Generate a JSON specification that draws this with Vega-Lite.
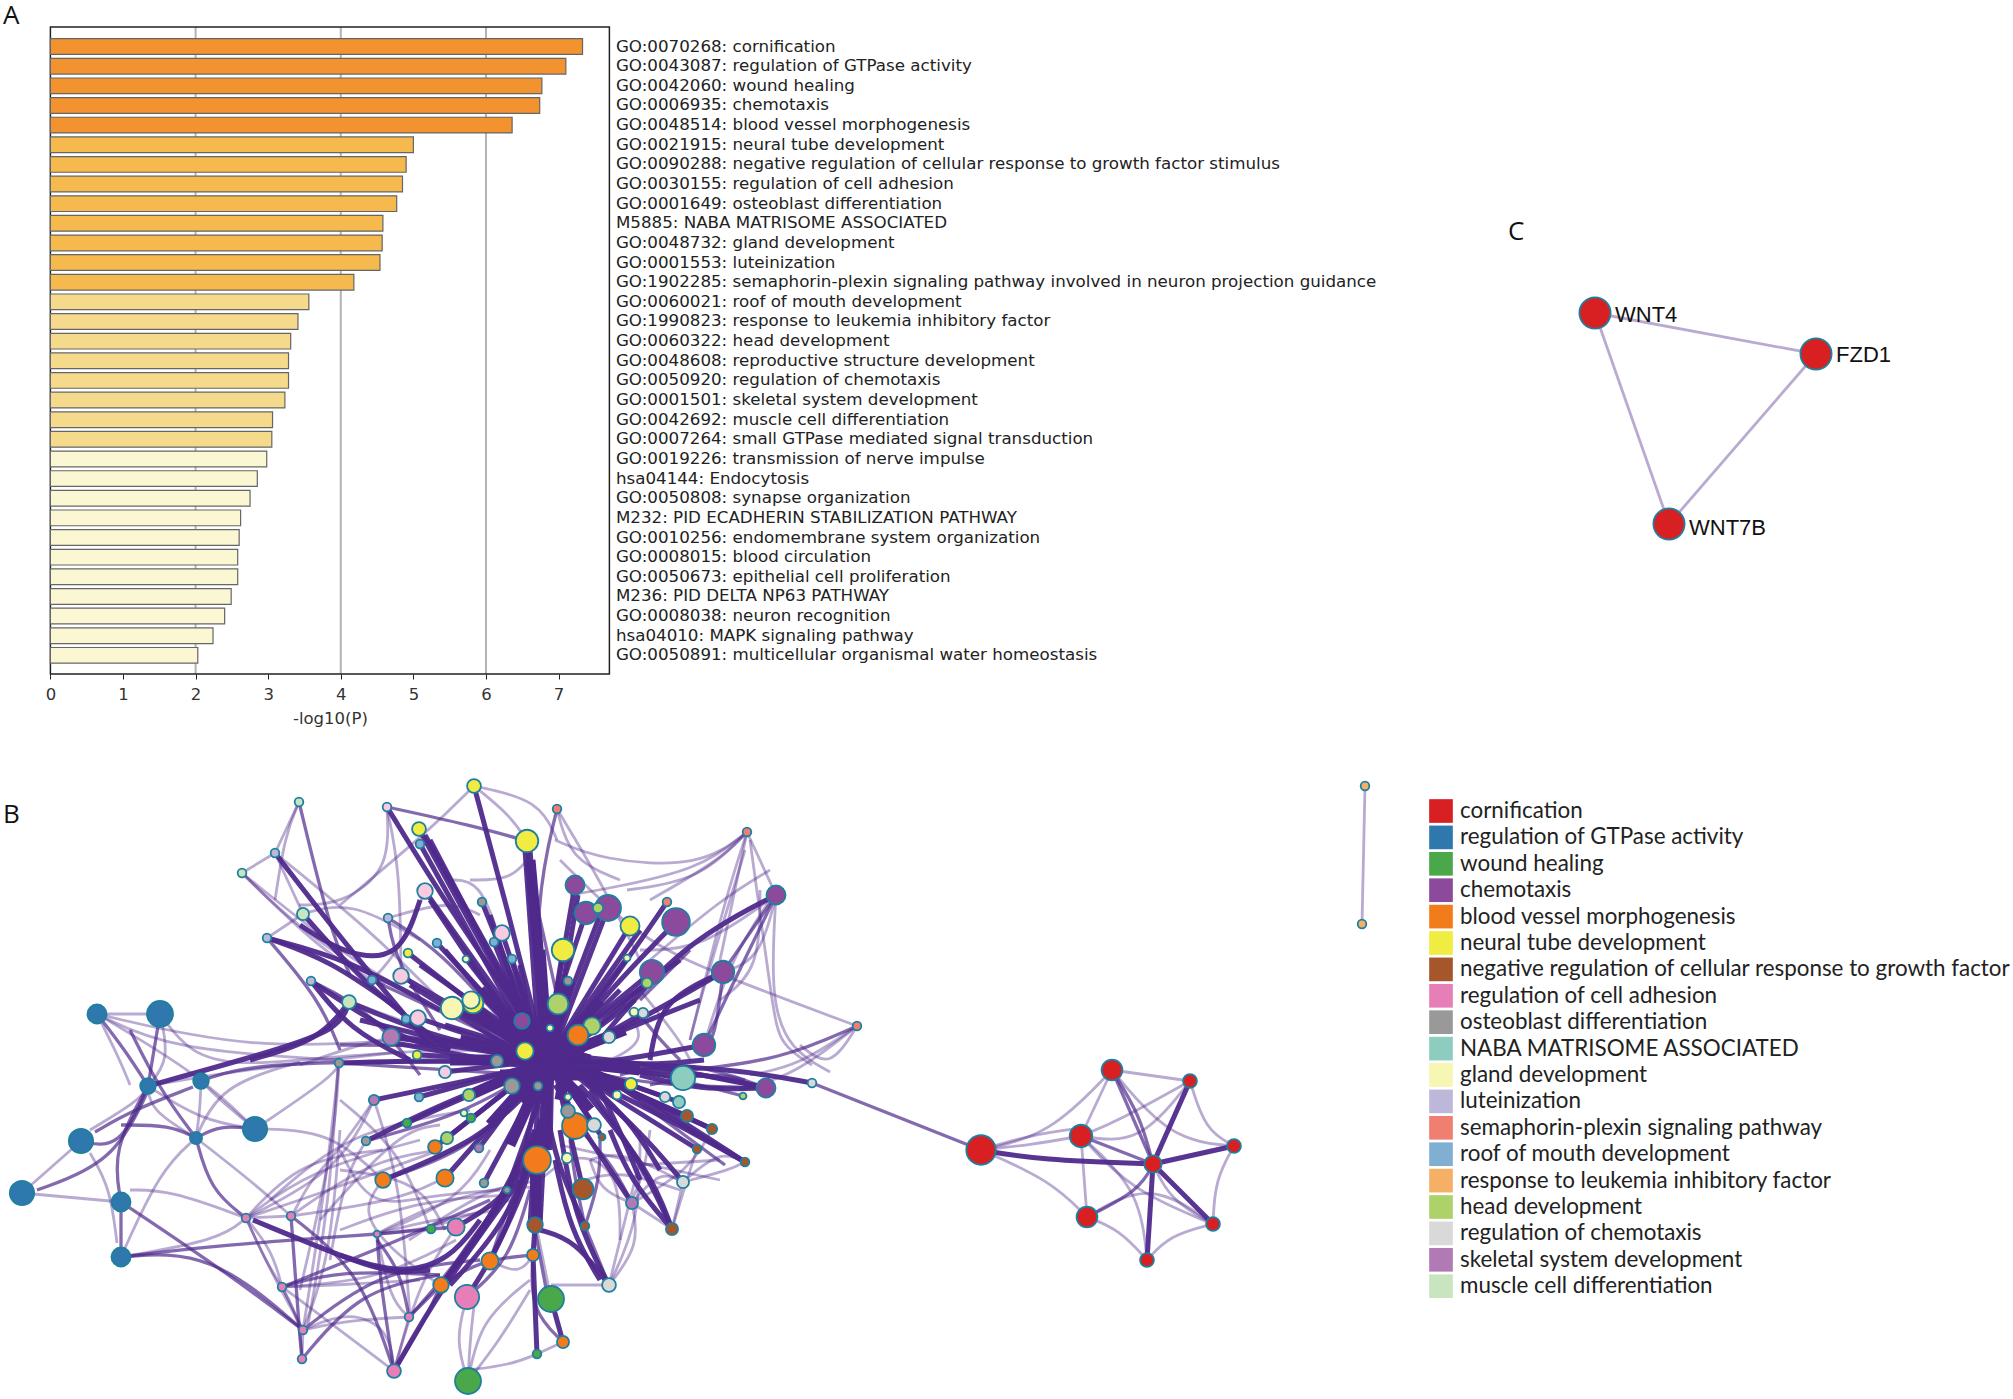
{"$schema":"https://vega.github.io/schema/vega-lite/v6.json","width":2013,"height":1399,"padding":0,"autosize":{"type":"none"},"background":"white","config":{"view":{"stroke":null}},
"datasets":{
"bars":[{"label":"GO:0070268: cornification","v":7.33},{"label":"GO:0043087: regulation of GTPase activity","v":7.10},{"label":"GO:0042060: wound healing","v":6.77},{"label":"GO:0006935: chemotaxis","v":6.74},{"label":"GO:0048514: blood vessel morphogenesis","v":6.36},{"label":"GO:0021915: neural tube development","v":5.00},{"label":"GO:0090288: negative regulation of cellular response to growth factor stimulus","v":4.90},{"label":"GO:0030155: regulation of cell adhesion","v":4.85},{"label":"GO:0001649: osteoblast differentiation","v":4.77},{"label":"M5885: NABA MATRISOME ASSOCIATED","v":4.58},{"label":"GO:0048732: gland development","v":4.57},{"label":"GO:0001553: luteinization","v":4.54},{"label":"GO:1902285: semaphorin-plexin signaling pathway involved in neuron projection guidance","v":4.18},{"label":"GO:0060021: roof of mouth development","v":3.56},{"label":"GO:1990823: response to leukemia inhibitory factor","v":3.41},{"label":"GO:0060322: head development","v":3.31},{"label":"GO:0048608: reproductive structure development","v":3.28},{"label":"GO:0050920: regulation of chemotaxis","v":3.28},{"label":"GO:0001501: skeletal system development","v":3.23},{"label":"GO:0042692: muscle cell differentiation","v":3.06},{"label":"GO:0007264: small GTPase mediated signal transduction","v":3.05},{"label":"GO:0019226: transmission of nerve impulse","v":2.98},{"label":"hsa04144: Endocytosis","v":2.85},{"label":"GO:0050808: synapse organization","v":2.75},{"label":"M232: PID ECADHERIN STABILIZATION PATHWAY","v":2.62},{"label":"GO:0010256: endomembrane system organization","v":2.60},{"label":"GO:0008015: blood circulation","v":2.58},{"label":"GO:0050673: epithelial cell proliferation","v":2.58},{"label":"M236: PID DELTA NP63 PATHWAY","v":2.49},{"label":"GO:0008038: neuron recognition","v":2.40},{"label":"hsa04010: MAPK signaling pathway","v":2.24},{"label":"GO:0050891: multicellular organismal water homeostasis","v":2.03}],
"terms":[{"t":1,"term":"cornification"},{"t":2,"term":"regulation of GTPase activity"},{"t":3,"term":"wound healing"},{"t":4,"term":"chemotaxis"},{"t":5,"term":"blood vessel morphogenesis"},{"t":6,"term":"neural tube development"},{"t":7,"term":"negative regulation of cellular response to growth factor"},{"t":8,"term":"regulation of cell adhesion"},{"t":9,"term":"osteoblast differentiation"},{"t":10,"term":"NABA MATRISOME ASSOCIATED"},{"t":11,"term":"gland development"},{"t":12,"term":"luteinization"},{"t":13,"term":"semaphorin-plexin signaling pathway"},{"t":14,"term":"roof of mouth development"},{"t":15,"term":"response to leukemia inhibitory factor"},{"t":16,"term":"head development"},{"t":17,"term":"regulation of chemotaxis"},{"t":18,"term":"skeletal system development"},{"t":19,"term":"muscle cell differentiation"},{"t":20,"term":"small GTPase mediated signal transduction"}],
"nodes":[{"x":299,"y":802,"t":19,"k":5},{"x":275,"y":853,"t":12,"k":5},{"x":242,"y":873,"t":19,"k":5},{"x":303,"y":914,"t":19,"k":7},{"x":267,"y":938,"t":12,"k":5},{"x":311,"y":981,"t":12,"k":5},{"x":387,"y":807,"t":20,"k":5},{"x":419,"y":829,"t":6,"k":8},{"x":420,"y":844,"t":14,"k":5},{"x":425,"y":891,"t":20,"k":9},{"x":388,"y":918,"t":12,"k":5},{"x":437,"y":943,"t":14,"k":5},{"x":408,"y":953,"t":6,"k":5},{"x":401,"y":976,"t":20,"k":9},{"x":372,"y":980,"t":14,"k":5},{"x":349,"y":1002,"t":19,"k":8},{"x":406,"y":1019,"t":14,"k":5},{"x":418,"y":1018,"t":20,"k":9},{"x":391,"y":1037,"t":18,"k":10},{"x":417,"y":1055,"t":6,"k":5},{"x":339,"y":1063,"t":9,"k":5},{"x":473,"y":1003,"t":6,"k":12},{"x":452,"y":1008,"t":11,"k":13},{"x":471,"y":1000,"t":11,"k":10},{"x":97,"y":1014,"t":2,"k":11},{"x":160,"y":1014,"t":2,"k":15},{"x":148,"y":1086,"t":2,"k":9},{"x":201,"y":1081,"t":2,"k":9},{"x":255,"y":1129,"t":2,"k":14},{"x":196,"y":1138,"t":2,"k":7},{"x":81,"y":1141,"t":2,"k":14},{"x":22,"y":1193,"t":2,"k":14},{"x":121,"y":1202,"t":2,"k":11},{"x":121,"y":1257,"t":2,"k":11},{"x":474,"y":786,"t":6,"k":8},{"x":557,"y":809,"t":13,"k":5},{"x":527,"y":841,"t":6,"k":13},{"x":575,"y":885,"t":4,"k":11},{"x":482,"y":902,"t":9,"k":5},{"x":608,"y":908,"t":4,"k":15},{"x":586,"y":913,"t":4,"k":13},{"x":598,"y":908,"t":16,"k":6},{"x":630,"y":926,"t":6,"k":11},{"x":667,"y":902,"t":13,"k":5},{"x":676,"y":922,"t":4,"k":16},{"x":494,"y":942,"t":14,"k":5},{"x":502,"y":933,"t":20,"k":9},{"x":563,"y":950,"t":6,"k":13},{"x":512,"y":959,"t":14,"k":5},{"x":466,"y":959,"t":11,"k":4},{"x":627,"y":958,"t":11,"k":4},{"x":652,"y":972,"t":4,"k":14},{"x":647,"y":983,"t":16,"k":6},{"x":723,"y":972,"t":4,"k":13},{"x":747,"y":832,"t":13,"k":5},{"x":776,"y":895,"t":4,"k":11},{"x":568,"y":981,"t":9,"k":5},{"x":558,"y":1004,"t":16,"k":12},{"x":522,"y":1021,"t":4,"k":9},{"x":550,"y":1028,"t":11,"k":4},{"x":592,"y":1026,"t":16,"k":10},{"x":578,"y":1035,"t":5,"k":12},{"x":609,"y":1037,"t":17,"k":7},{"x":643,"y":1013,"t":17,"k":6},{"x":634,"y":1012,"t":11,"k":5},{"x":704,"y":1045,"t":4,"k":13},{"x":525,"y":1051,"t":6,"k":10},{"x":497,"y":1061,"t":9,"k":7},{"x":683,"y":1078,"t":10,"k":14},{"x":766,"y":1088,"t":4,"k":11},{"x":631,"y":1084,"t":6,"k":7},{"x":512,"y":1086,"t":9,"k":9},{"x":538,"y":1086,"t":9,"k":5},{"x":445,"y":1072,"t":20,"k":7},{"x":374,"y":1100,"t":18,"k":6},{"x":419,"y":1097,"t":14,"k":5},{"x":469,"y":1095,"t":16,"k":7},{"x":471,"y":1118,"t":3,"k":5},{"x":464,"y":1113,"t":11,"k":4},{"x":407,"y":1123,"t":3,"k":5},{"x":366,"y":1141,"t":9,"k":5},{"x":447,"y":1138,"t":16,"k":7},{"x":435,"y":1147,"t":5,"k":8},{"x":479,"y":1148,"t":18,"k":5},{"x":383,"y":1180,"t":5,"k":9},{"x":445,"y":1178,"t":5,"k":10},{"x":484,"y":1183,"t":9,"k":5},{"x":507,"y":1190,"t":9,"k":4},{"x":537,"y":1160,"t":5,"k":16},{"x":567,"y":1158,"t":11,"k":6},{"x":583,"y":1189,"t":7,"k":12},{"x":575,"y":1126,"t":5,"k":15},{"x":568,"y":1111,"t":9,"k":8},{"x":594,"y":1125,"t":17,"k":8},{"x":602,"y":1137,"t":7,"k":4},{"x":568,"y":1097,"t":11,"k":4},{"x":617,"y":1095,"t":11,"k":5},{"x":665,"y":1097,"t":17,"k":6},{"x":679,"y":1102,"t":10,"k":7},{"x":687,"y":1116,"t":7,"k":7},{"x":712,"y":1129,"t":7,"k":6},{"x":697,"y":1149,"t":7,"k":5},{"x":745,"y":1162,"t":7,"k":5},{"x":743,"y":1096,"t":16,"k":4},{"x":683,"y":1182,"t":17,"k":7},{"x":632,"y":1203,"t":18,"k":7},{"x":672,"y":1229,"t":7,"k":7},{"x":535,"y":1225,"t":7,"k":9},{"x":585,"y":1226,"t":7,"k":5},{"x":456,"y":1227,"t":8,"k":10},{"x":431,"y":1229,"t":3,"k":5},{"x":377,"y":1234,"t":8,"k":4},{"x":533,"y":1255,"t":5,"k":7},{"x":490,"y":1261,"t":5,"k":10},{"x":441,"y":1285,"t":5,"k":9},{"x":467,"y":1297,"t":8,"k":14},{"x":551,"y":1299,"t":3,"k":15},{"x":609,"y":1285,"t":17,"k":8},{"x":409,"y":1317,"t":8,"k":5},{"x":563,"y":1342,"t":5,"k":7},{"x":537,"y":1354,"t":3,"k":5},{"x":394,"y":1371,"t":8,"k":8},{"x":468,"y":1381,"t":3,"k":15},{"x":246,"y":1218,"t":8,"k":5},{"x":291,"y":1216,"t":8,"k":5},{"x":282,"y":1287,"t":8,"k":5},{"x":303,"y":1330,"t":8,"k":5},{"x":302,"y":1359,"t":8,"k":5},{"x":981,"y":1150,"t":1,"k":17},{"x":1081,"y":1136,"t":1,"k":13},{"x":1112,"y":1070,"t":1,"k":12},{"x":1190,"y":1081,"t":1,"k":8},{"x":1234,"y":1146,"t":1,"k":8},{"x":1153,"y":1164,"t":1,"k":10},{"x":1087,"y":1217,"t":1,"k":12},{"x":1213,"y":1224,"t":1,"k":8},{"x":1147,"y":1260,"t":1,"k":8},{"x":857,"y":1026,"t":13,"k":5},{"x":812,"y":1083,"t":17,"k":5},{"x":1365,"y":786,"t":15,"k":5},{"x":1362,"y":924,"t":15,"k":5},{"x":1595,"y":313,"t":1,"k":18},{"x":1816,"y":354,"t":1,"k":18},{"x":1669,"y":524,"t":1,"k":18}],
"edges":[{"w":1,"x":[1595,1816],"y":[313,354]},{"w":1,"x":[1595,1669],"y":[313,524]},{"w":1,"x":[1816,1669],"y":[354,524]},{"w":1,"x":[1365,1362],"y":[786,924]},
{"w":1,"x":[557,570,620],"y":[809,860,880]},{"w":1,"x":[474,540,557],"y":[786,800,840]},{"w":1,"x":[557,600,640],"y":[809,880,960]},{"w":1,"x":[627,700,747],"y":[890,880,832]},{"w":1,"x":[650,720,747],"y":[900,860,832]},{"w":1,"x":[650,720,770],"y":[960,900,870]},{"w":1,"x":[723,760,776],"y":[972,960,895]},{"w":1,"x":[720,760,760],"y":[1000,970,890]},{"w":1,"x":[690,700,745],"y":[1040,1000,850]},{"w":1,"x":[704,730,770],"y":[1045,960,900]},{"w":1,"x":[640,680,690],"y":[990,1040,1060]},{"w":1,"x":[620,650,610],"y":[1000,1040,1060]},{"w":1,"x":[640,700,776],"y":[950,950,895]},{"w":2,"x":[640,660,680],"y":[1015,1040,1060]},{"w":3,"x":[650,660,723],"y":[1060,1000,972]},{"w":1,"x":[500,480,450],"y":[940,880,880]},{"w":1,"x":[470,510,527],"y":[880,880,860]},{"w":1,"x":[388,450,480],"y":[918,900,915]},{"w":2,"x":[388,395,440],"y":[918,960,1030]},{"w":2,"x":[388,440,510],"y":[918,950,1030]},{"w":1,"x":[425,400,372],"y":[891,950,980]},{"w":3,"x":[420,400,345,300],"y":[900,960,955,925]},{"w":3,"x":[267,330,400],"y":[938,960,1010]},{"w":3,"x":[311,400,450],"y":[981,1040,1050]},{"w":3,"x":[349,320,250],"y":[1002,1040,1060]},{"w":1,"x":[300,400,460],"y":[1065,1030,1040]},{"w":1,"x":[300,420,500],"y":[1060,1050,1050]},{"w":2,"x":[340,430,520],"y":[1045,1045,1050]},
{"w":1,"x":[340,400,430],"y":[1100,1150,1229]},{"w":1,"x":[374,340,246],"y":[1100,1170,1218]},{"w":1,"x":[320,400,440],"y":[1220,1130,1125]},{"w":1,"x":[270,350,470],"y":[1200,1130,1110]},{"w":1,"x":[291,370,440],"y":[1216,1160,1150]},{"w":1,"x":[291,400,440],"y":[1216,1200,1180]},{"w":1,"x":[377,460,490],"y":[1234,1200,1150]},{"w":2,"x":[377,431],"y":[1234,1229]},{"w":1,"x":[340,420,510],"y":[1230,1200,1195]},{"w":1,"x":[377,390,409],"y":[1234,1300,1317]},{"w":1,"x":[456,420,394],"y":[1227,1280,1371]},{"w":1,"x":[303,350,409],"y":[1330,1320,1317]},{"w":2,"x":[282,400,490],"y":[1287,1240,1200]},{"w":1,"x":[282,380,456],"y":[1287,1280,1240]},{"w":1,"x":[409,500,540],"y":[1240,1180,1190]},{"w":2,"x":[441,480,533],"y":[1285,1260,1255]},{"w":1,"x":[490,520,533],"y":[1261,1275,1255]},{"w":2,"x":[490,510,530],"y":[1261,1200,1160]},{"w":2,"x":[467,510,530],"y":[1297,1260,1190]},{"w":2,"x":[441,470,510],"y":[1285,1240,1190]},{"w":1,"x":[468,480,530],"y":[1381,1320,1280]},
{"w":3,"x":[640,620,590],"y":[1180,1130,1070]},{"w":3,"x":[660,630,585],"y":[1170,1120,1080]},{"w":3,"x":[600,570,555],"y":[1280,1230,1160]},{"w":3,"x":[609,575,560],"y":[1285,1220,1130]},{"w":2,"x":[585,575,570],"y":[1226,1180,1140]},{"w":3,"x":[745,670,600],"y":[1162,1120,1085]},{"w":3,"x":[745,650,590],"y":[1162,1100,1070]},{"w":3,"x":[712,640,580],"y":[1129,1095,1070]},{"w":1,"x":[683,720,745],"y":[1182,1150,1162]},{"w":1,"x":[683,620,590],"y":[1182,1150,1160]},{"w":1,"x":[632,690,712],"y":[1203,1170,1129]},{"w":1,"x":[632,600,590],"y":[1203,1190,1160]},{"w":1,"x":[640,720],"y":[1165,1160]},{"w":1,"x":[650,645,632],"y":[1130,1170,1200]},{"w":1,"x":[672,690,697],"y":[1229,1170,1149]},{"w":1,"x":[609,640,640],"y":[1285,1220,1130]},{"w":2,"x":[585,600,600],"y":[1226,1180,1140]},{"w":3,"x":[704,660,600],"y":[1060,1065,1062]},{"w":2,"x":[766,720,650],"y":[1088,1070,1085]},{"w":2,"x":[745,680,620],"y":[1080,1060,1075]},{"w":3,"x":[766,700,640],"y":[1088,1090,1075]},
{"w":4,"x":[530,548],"y":[860,1060]},{"w":4,"x":[470,548],"y":[1010,1060]},{"w":4,"x":[460,548],"y":[1040,1060]},{"w":4,"x":[450,548],"y":[1060,1060]},{"w":4,"x":[470,548],"y":[1095,1060]},{"w":4,"x":[490,548],"y":[1125,1060]},{"w":4,"x":[510,548],"y":[1145,1060]},{"w":4,"x":[545,548],"y":[1150,1060]},{"w":4,"x":[590,548],"y":[1110,1060]},{"w":4,"x":[620,548],"y":[1090,1060]},{"w":4,"x":[640,548],"y":[1070,1060]},{"w":4,"x":[625,548],"y":[1030,1060]},{"w":4,"x":[600,548],"y":[1000,1060]},{"w":4,"x":[570,548],"y":[980,1060]},{"w":4,"x":[540,548],"y":[950,1060]},{"w":4,"x":[510,548],"y":[990,1060]},{"w":4,"x":[480,548],"y":[990,1060]},{"w":4,"x":[570,560],"y":[1040,1100]},{"w":4,"x":[520,590],"y":[1040,1060]},{"w":4,"x":[535,537],"y":[1160,1225]},{"w":4,"x":[500,590],"y":[1075,1075]},{"w":4,"x":[520,590],"y":[1100,1040]},{"w":4,"x":[585,510],"y":[1100,1030]},
{"w":1,"x":[299,275],"y":[802,853]},{"w":1,"x":[275,242],"y":[853,873]},{"w":1,"x":[299,285,275],"y":[802,835,900]},{"w":2,"x":[299,330,350],"y":[802,930,975]},{"w":3,"x":[275,350,430],"y":[853,950,1045]},{"w":1,"x":[275,370,440],"y":[853,930,1000]},{"w":1,"x":[242,300,385],"y":[873,930,985]},{"w":1,"x":[242,320,372],"y":[873,950,980]},{"w":1,"x":[242,350,430],"y":[873,960,1005]},{"w":3,"x":[303,370,450],"y":[914,990,1050]},{"w":1,"x":[303,275],"y":[914,853]},{"w":1,"x":[303,350,420],"y":[914,900,940]},{"w":3,"x":[267,350,440],"y":[938,960,1010]},{"w":2,"x":[267,320,340],"y":[938,1000,1050]},{"w":1,"x":[267,303],"y":[938,914]},{"w":3,"x":[311,350,410],"y":[981,1030,1060]},{"w":2,"x":[311,370,420],"y":[981,1010,1075]},{"w":1,"x":[311,345,400],"y":[981,1000,1020]},
{"w":3,"x":[387,450,540],"y":[807,910,1040]},{"w":2,"x":[387,470,527],"y":[807,825,841]},{"w":1,"x":[387,390,340,299],"y":[810,870,905,905]},{"w":1,"x":[387,400,401],"y":[808,870,976]},{"w":1,"x":[474,430,340],"y":[786,830,905]},{"w":1,"x":[474,510,527],"y":[786,815,841]},{"w":3,"x":[474,505,538],"y":[786,900,1030]},{"w":2,"x":[557,535,540],"y":[809,900,1040]},{"w":3,"x":[527,545],"y":[841,1060]},{"w":3,"x":[530,548],"y":[850,1060]},{"w":3,"x":[525,540],"y":[850,1060]},{"w":2,"x":[527,560],"y":[860,1010]},{"w":1,"x":[555,600,700,747],"y":[840,860,868,832]},{"w":1,"x":[747,700,600,570],"y":[832,870,890,895]},{"w":1,"x":[747,725,700,690],"y":[832,900,1000,1040]},{"w":1,"x":[747,735,720],"y":[832,890,960]},{"w":1,"x":[747,776],"y":[832,895]},{"w":1,"x":[750,773,780,812],"y":[840,1010,1045,1065]},{"w":3,"x":[776,680,600],"y":[895,945,1040]},{"w":2,"x":[776,723],"y":[895,972]},{"w":2,"x":[776,725,704],"y":[895,1000,1045]},{"w":1,"x":[776,770,790,830],"y":[895,1000,1050,1072]},{"w":1,"x":[857,720,640,560],"y":[1026,975,940,860]},
{"w":3,"x":[723,640,560],"y":[972,1020,1060]},{"w":3,"x":[704,625,560],"y":[1045,1060,1066]},{"w":2,"x":[723,715,704],"y":[972,1040,1045]},{"w":3,"x":[676,600,555],"y":[922,1000,1060]},{"w":3,"x":[667,610,555],"y":[902,985,1055]},{"w":3,"x":[652,545],"y":[972,1060]},{"w":3,"x":[655,560],"y":[975,1060]},{"w":3,"x":[630,548],"y":[926,1060]},{"w":3,"x":[640,555],"y":[930,1050]},{"w":3,"x":[608,550],"y":[908,1060]},{"w":3,"x":[600,545],"y":[915,1060]},{"w":3,"x":[586,540],"y":[913,1050]},{"w":3,"x":[575,545],"y":[885,1060]},{"w":3,"x":[578,552],"y":[895,1050]},{"w":3,"x":[563,545],"y":[950,1060]},{"w":3,"x":[627,550],"y":[958,1060]},{"w":3,"x":[568,548],"y":[981,1060]},{"w":3,"x":[558,545],"y":[1004,1060]},{"w":3,"x":[592,548],"y":[1026,1060]},{"w":3,"x":[640,560],"y":[1015,1060]},{"w":3,"x":[635,555],"y":[1000,1060]},{"w":3,"x":[620,560],"y":[990,1050]},{"w":3,"x":[700,560],"y":[1000,1055]},{"w":3,"x":[680,555],"y":[960,1050]},{"w":2,"x":[640,690],"y":[1000,950]},
{"w":3,"x":[419,545],"y":[829,1060]},{"w":3,"x":[425,545],"y":[835,1050]},{"w":3,"x":[420,540],"y":[844,1060]},{"w":3,"x":[430,535],"y":[840,1040]},{"w":3,"x":[425,545],"y":[891,1060]},{"w":3,"x":[430,530],"y":[900,1050]},{"w":3,"x":[482,545],"y":[902,1060]},{"w":3,"x":[490,535],"y":[915,1050]},{"w":3,"x":[502,545],"y":[933,1060]},{"w":3,"x":[494,540],"y":[942,1060]},{"w":3,"x":[512,545],"y":[959,1060]},{"w":3,"x":[520,535],"y":[965,1050]},{"w":3,"x":[466,545],"y":[959,1060]},{"w":3,"x":[437,545],"y":[943,1060]},{"w":3,"x":[445,530],"y":[950,1050]},{"w":3,"x":[408,545],"y":[953,1060]},{"w":3,"x":[420,540],"y":[965,1050]},{"w":3,"x":[401,545],"y":[976,1060]},{"w":3,"x":[410,530],"y":[985,1060]},{"w":2,"x":[372,545],"y":[980,1060]},{"w":3,"x":[349,440,545],"y":[1002,1040,1060]},{"w":3,"x":[360,545],"y":[1020,1065]},{"w":3,"x":[418,545],"y":[1018,1060]},{"w":3,"x":[391,545],"y":[1037,1060]},{"w":3,"x":[391,545],"y":[1037,1050]},{"w":3,"x":[395,545],"y":[1043,1070]},{"w":3,"x":[417,545],"y":[1055,1060]},{"w":3,"x":[339,450,545],"y":[1063,1060,1062]},{"w":2,"x":[339,450,530],"y":[1063,1070,1075]},{"w":3,"x":[452,545],"y":[1008,1060]},{"w":3,"x":[473,545],"y":[1003,1060]},{"w":3,"x":[445,545],"y":[1025,1055]},{"w":3,"x":[480,550],"y":[1020,1060]},{"w":3,"x":[500,560],"y":[1020,1060]},{"w":3,"x":[445,545],"y":[1072,1060]},{"w":3,"x":[374,470,540],"y":[1100,1080,1065]},{"w":3,"x":[419,545],"y":[1097,1062]},{"w":3,"x":[469,545],"y":[1095,1060]},{"w":3,"x":[407,480,545],"y":[1123,1090,1065]},{"w":3,"x":[366,450,530],"y":[1141,1100,1070]},{"w":2,"x":[366,460,520],"y":[1141,1115,1080]},{"w":3,"x":[447,545],"y":[1138,1060]},{"w":3,"x":[435,540],"y":[1147,1065]},{"w":3,"x":[479,545],"y":[1148,1060]},{"w":3,"x":[383,480,530],"y":[1180,1140,1090]},{"w":2,"x":[383,470,520],"y":[1180,1150,1095]},{"w":3,"x":[445,540],"y":[1178,1070]},{"w":3,"x":[484,545],"y":[1183,1070]},{"w":3,"x":[507,550],"y":[1190,1070]},{"w":3,"x":[537,550],"y":[1160,1060]},{"w":3,"x":[525,545],"y":[1150,1060]},{"w":3,"x":[550,552],"y":[1150,1060]},{"w":3,"x":[583,555],"y":[1189,1070]},{"w":3,"x":[575,555],"y":[1126,1060]},{"w":3,"x":[594,550],"y":[1125,1060]},{"w":3,"x":[602,550],"y":[1137,1060]},{"w":3,"x":[617,555],"y":[1095,1060]},{"w":3,"x":[631,555],"y":[1084,1060]},{"w":3,"x":[665,560],"y":[1097,1060]},{"w":3,"x":[679,560],"y":[1102,1060]},{"w":3,"x":[683,560],"y":[1078,1060]},{"w":3,"x":[687,560],"y":[1116,1060]},{"w":3,"x":[712,560],"y":[1129,1060]},{"w":3,"x":[697,555],"y":[1149,1060]},{"w":2,"x":[725,590],"y":[1165,1065]},{"w":3,"x":[745,690,600],"y":[1162,1130,1075]},{"w":2,"x":[743,650,570],"y":[1096,1072,1060]},{"w":3,"x":[766,640,560],"y":[1088,1062,1055]},{"w":3,"x":[766,700,570],"y":[1088,1072,1065]},{"w":2,"x":[766,650,580],"y":[1088,1085,1070]},{"w":3,"x":[812,740,650],"y":[1083,1070,1065]},{"w":2,"x":[857,780,690],"y":[1026,1060,1070]},{"w":1,"x":[857,795,740],"y":[1026,1075,1090]},{"w":1,"x":[857,800,750],"y":[1026,1065,1075]},{"w":1,"x":[800,830,857],"y":[1045,1070,1026]},{"w":2,"x":[812,981],"y":[1083,1150]},{"w":3,"x":[672,640,590],"y":[1229,1160,1090]},{"w":3,"x":[672,650,580],"y":[1229,1170,1085]},{"w":3,"x":[672,630,610],"y":[1229,1180,1130]},{"w":1,"x":[672,632],"y":[1229,1203]},{"w":1,"x":[672,683],"y":[1229,1182]},{"w":3,"x":[683,640,570],"y":[1182,1130,1070]},{"w":3,"x":[632,590,555],"y":[1203,1140,1085]},{"w":2,"x":[632,610,570],"y":[1203,1160,1120]},{"w":1,"x":[632,660,683],"y":[1203,1170,1182]},{"w":3,"x":[585,555,545],"y":[1226,1160,1100]},{"w":3,"x":[535,545],"y":[1225,1070]},{"w":3,"x":[530,540],"y":[1225,1070]},{"w":3,"x":[540,548],"y":[1225,1070]},{"w":1,"x":[540,575,620,620],"y":[1180,1150,1170,1240]},{"w":1,"x":[585,620,680],"y":[1180,1170,1190]},{"w":1,"x":[560,650,720],"y":[1145,1165,1180]},{"w":1,"x":[640,625,609],"y":[1160,1220,1285]},{"w":1,"x":[745,730,683],"y":[1162,1170,1182]},
{"w":3,"x":[456,520,545],"y":[1227,1190,1110]},{"w":2,"x":[431,456],"y":[1229,1227]},{"w":3,"x":[490,530,540],"y":[1261,1180,1120]},{"w":3,"x":[441,490,530],"y":[1285,1220,1140]},{"w":3,"x":[445,500,535],"y":[1280,1210,1130]},{"w":3,"x":[450,505,535],"y":[1285,1225,1150]},{"w":3,"x":[467,510,535],"y":[1297,1230,1130]},{"w":3,"x":[533,537,540],"y":[1255,1200,1150]},{"w":3,"x":[537,533],"y":[1354,1255]},{"w":3,"x":[563,551],"y":[1342,1299]},{"w":2,"x":[563,530,533],"y":[1342,1310,1255]},{"w":1,"x":[551,536],"y":[1299,1225]},{"w":2,"x":[548,534],"y":[1299,1225]},{"w":3,"x":[609,575,540],"y":[1285,1240,1230]},{"w":2,"x":[609,585],"y":[1285,1226]},{"w":1,"x":[609,551],"y":[1285,1285]},{"w":1,"x":[609,640,632],"y":[1285,1245,1203]},{"w":1,"x":[468,455,467],"y":[1381,1340,1297]},{"w":1,"x":[468,470,475],"y":[1381,1340,1297]},{"w":1,"x":[468,500,530],"y":[1381,1340,1290]},{"w":1,"x":[468,510,537],"y":[1370,1365,1354]},{"w":1,"x":[537,563],"y":[1354,1342]},{"w":2,"x":[394,380,377],"y":[1371,1280,1234]},{"w":1,"x":[394,300,282],"y":[1371,1300,1287]},{"w":2,"x":[394,420,441],"y":[1371,1330,1285]},{"w":3,"x":[394,440,520],"y":[1371,1290,1180]},{"w":1,"x":[394,409],"y":[1371,1317]},{"w":1,"x":[303,350,390,394],"y":[1330,1310,1330,1371]},{"w":2,"x":[409,460,520],"y":[1317,1260,1170]},{"w":2,"x":[409,400,377],"y":[1317,1270,1240]},{"w":2,"x":[409,441],"y":[1317,1285]},{"w":3,"x":[340,400,450,480],"y":[1255,1275,1260,1220]},{"w":1,"x":[377,430,500],"y":[1234,1220,1210]},{"w":1,"x":[377,430,510],"y":[1234,1230,1200]},{"w":1,"x":[377,440,540],"y":[1234,1200,1180]},{"w":1,"x":[340,370,430,500],"y":[1150,1210,1195,1190]},{"w":1,"x":[340,420,445],"y":[1170,1180,1230]},{"w":1,"x":[383,360,390,440],"y":[1180,1210,1250,1285]},{"w":1,"x":[374,340,310,292],"y":[1100,1150,1180,1216]},{"w":1,"x":[374,400,410],"y":[1100,1180,1317]},{"w":1,"x":[339,335,300],"y":[1063,1140,1290]},{"w":1,"x":[338,330,308],"y":[1063,1200,1325]},{"w":1,"x":[339,325,303],"y":[1063,1190,1330]},{"w":1,"x":[366,345,330],"y":[1141,1175,1260]},
{"w":1,"x":[97,160],"y":[1014,1014]},{"w":2,"x":[97,125,148],"y":[1014,1050,1086]},{"w":1,"x":[97,120,130],"y":[1014,1060,1085]},{"w":2,"x":[160,148],"y":[1014,1086]},{"w":1,"x":[160,170,148],"y":[1014,1060,1086]},{"w":1,"x":[97,170,340],"y":[1014,1050,1060]},{"w":1,"x":[97,250,400],"y":[1014,1050,1040]},{"w":1,"x":[97,200,255],"y":[1014,1075,1129]},{"w":1,"x":[160,190,240,300],"y":[1014,1055,1065,1060]},{"w":3,"x":[148,260,340,349],"y":[1086,1055,1030,1002]},{"w":2,"x":[201,260,545],"y":[1081,1060,1063]},{"w":1,"x":[148,240,400],"y":[1086,1070,1052]},{"w":1,"x":[81,22],"y":[1141,1193]},{"w":2,"x":[37,113,147],"y":[1190,1163,1093]},{"w":1,"x":[22,121],"y":[1193,1202]},{"w":2,"x":[81,120,148],"y":[1141,1150,1086]},{"w":2,"x":[95,133,193],"y":[1132,1110,1087]},{"w":1,"x":[90,140,148],"y":[1130,1100,1086]},{"w":1,"x":[90,110,117],"y":[1153,1187,1243]},{"w":2,"x":[121,112,148],"y":[1202,1150,1086]},{"w":2,"x":[121,121],"y":[1202,1257]},{"w":1,"x":[130,170,246],"y":[1190,1190,1218]},{"w":1,"x":[121,160,196],"y":[1257,1170,1138]},{"w":1,"x":[121,220,246],"y":[1257,1240,1218]},{"w":2,"x":[121,220,377],"y":[1257,1245,1234]},{"w":2,"x":[121,210,303],"y":[1257,1250,1330]},{"w":2,"x":[121,230,303],"y":[1202,1275,1330]},{"w":2,"x":[196,210,246],"y":[1138,1190,1218]},{"w":1,"x":[196,250,291],"y":[1138,1180,1216]},{"w":2,"x":[196,170,121],"y":[1138,1125,1125]},{"w":2,"x":[196,160,130],"y":[1138,1090,1030]},{"w":1,"x":[196,150,148],"y":[1138,1110,1086]},{"w":1,"x":[196,200,201],"y":[1138,1110,1081]},{"w":1,"x":[196,220,300],"y":[1138,1085,1062]},{"w":1,"x":[255,200,148],"y":[1129,1120,1086]},{"w":2,"x":[255,220,196],"y":[1129,1125,1138]},{"w":1,"x":[255,220,201],"y":[1129,1100,1081]},{"w":1,"x":[255,335,339],"y":[1129,1075,1063]},{"w":1,"x":[255,330,383],"y":[1129,1130,1180]},{"w":1,"x":[246,310,420],"y":[1218,1170,1140]},{"w":1,"x":[246,300,383],"y":[1218,1160,1150]},{"w":1,"x":[246,330,440],"y":[1218,1190,1150]},{"w":3,"x":[253,367,400,430],"y":[1220,1267,1273,1270]},{"w":1,"x":[246,270,303],"y":[1218,1270,1330]},{"w":1,"x":[246,265,282],"y":[1218,1260,1287]},{"w":1,"x":[246,272,282],"y":[1218,1250,1287]},{"w":1,"x":[246,291],"y":[1218,1216]},{"w":2,"x":[291,360,394],"y":[1216,1270,1371]},{"w":2,"x":[282,340,440],"y":[1287,1270,1275]},{"w":1,"x":[282,340,420],"y":[1287,1285,1280]},{"w":1,"x":[282,300,302],"y":[1287,1320,1359]},{"w":1,"x":[282,303],"y":[1287,1330]},{"w":1,"x":[303,330,340],"y":[1330,1260,1130]},{"w":2,"x":[302,300,291],"y":[1359,1340,1216]},{"w":1,"x":[302,303],"y":[1359,1330]},{"w":2,"x":[302,360,440],"y":[1359,1290,1275]},{"w":2,"x":[303,380,480],"y":[1330,1270,1260]},
{"w":3,"x":[981,1040,1153],"y":[1150,1160,1164]},{"w":1,"x":[981,1050,1112],"y":[1150,1135,1070]},{"w":1,"x":[981,1030,1081],"y":[1150,1145,1136]},{"w":1,"x":[981,1030,1081],"y":[1150,1135,1128]},{"w":1,"x":[981,1050,1087],"y":[1150,1180,1217]},{"w":1,"x":[1112,1081],"y":[1070,1136]},{"w":1,"x":[1112,1190],"y":[1070,1081]},{"w":2,"x":[1112,1153],"y":[1070,1164]},{"w":2,"x":[1112,1140,1153],"y":[1070,1115,1164]},{"w":3,"x":[1190,1153],"y":[1081,1164]},{"w":1,"x":[1190,1120,1081],"y":[1081,1120,1136]},{"w":1,"x":[1190,1205,1234],"y":[1081,1130,1146]},{"w":3,"x":[1234,1153],"y":[1146,1164]},{"w":1,"x":[1234,1170,1112],"y":[1146,1140,1070]},{"w":1,"x":[1234,1215,1213],"y":[1146,1180,1224]},{"w":2,"x":[1081,1153],"y":[1136,1164]},{"w":1,"x":[1081,1087],"y":[1136,1217]},{"w":1,"x":[1081,1140,1147],"y":[1136,1190,1260]},{"w":1,"x":[1081,1130,1213],"y":[1136,1190,1224]},{"w":2,"x":[1087,1140,1153],"y":[1217,1190,1164]},{"w":1,"x":[1087,1150,1213],"y":[1217,1180,1224]},{"w":1,"x":[1087,1120,1147],"y":[1217,1230,1260]},{"w":3,"x":[1153,1147],"y":[1164,1260]},{"w":3,"x":[1153,1213],"y":[1164,1224]},{"w":1,"x":[1153,1170,1213],"y":[1164,1200,1224]},{"w":1,"x":[1147,1170,1213],"y":[1260,1235,1224]},{"w":1,"x":[1081,1140,1190],"y":[1136,1145,1081]}],
"txt":[{"x":3,"y":24,"s":"A"},{"x":3,"y":823,"s":"B"},{"x":1508,"y":240,"s":"C"}],
"genes":[{"x":1615,"y":315,"s":"WNT4"},{"x":1836,"y":355,"s":"FZD1"},{"x":1689,"y":528,"s":"WNT7B"}],
"frame":[{"a":0,"b":7.7,"lo":0,"hi":1}],
"grid":[{"v":2,"lo":0,"hi":1},{"v":4,"lo":0,"hi":1},{"v":6,"lo":0,"hi":1}]
},
"resolve":{"scale":{"x":"independent","y":"independent"},"axis":{"x":"independent","y":"independent"}},
"layer":[
{"layer":[
{"data":{"name":"grid"},"mark":{"type":"rule","stroke":"#b3b3b3","strokeWidth":2},"encoding":{"x":{"field":"v","type":"quantitative","axis":null,"scale":{"domain":[0,7.7],"range":[50.4,609.4],"nice":false}},"y":{"field":"lo","type":"quantitative","axis":null,"scale":{"domain":[0,1],"range":[674,27],"nice":false}},"y2":{"field":"hi"}}},
{"data":{"name":"frame"},"mark":{"type":"rect","fill":null,"stroke":"#222222","strokeWidth":1.5},"encoding":{"x":{"field":"a","type":"quantitative"},"x2":{"field":"b"},"y":{"field":"lo","type":"quantitative"},"y2":{"field":"hi"}}}
]},
{"data":{"name":"bars"},"mark":{"type":"bar","stroke":"#666666","strokeWidth":1.2},"encoding":{
"x":{"field":"v","type":"quantitative","scale":{"domain":[0,7.7],"range":[50.4,609.4],"nice":false},"axis":{"orient":"bottom","offset":-725,"values":[0,1,2,3,4,5,6,7],"format":"d","title":"-log10(P)","titleFont":"DejaVu Sans","titleFontSize":16.5,"titleFontWeight":"normal","titleColor":"#333333","titlePadding":8,"labelFont":"DejaVu Sans","labelFontSize":16.5,"labelColor":"#333333","labelPadding":7,"tickColor":"#222222","tickSize":5,"domain":false,"grid":false,"labelFlush":false}},
"y":{"field":"label","type":"nominal","sort":null,"scale":{"range":[38.7,663.2],"paddingInner":0.2,"paddingOuter":0},"axis":{"orient":"right","offset":-1403.6,"title":null,"domain":false,"ticks":false,"grid":false,"labelFont":"DejaVu Sans","labelFontSize":16.7,"labelColor":"#222222","labelPadding":6,"labelLimit":1000,"labelOverlap":false}},
"color":{"field":"v","type":"quantitative","legend":null,"scale":{"type":"threshold","domain":[3.05,3.6,6],"range":["#fbf7d2","#f6da8c","#f5b94e","#f29330"]}}}},
{"layer":[
{"data":{"name":"edges"},"transform":[{"window":[{"op":"row_number","as":"e"}]},{"flatten":["x","y"]},{"window":[{"op":"row_number","as":"o"}],"groupby":["e"]}],"mark":{"type":"line","interpolate":"basis","stroke":"#4f2a8c","strokeCap":"butt"},"encoding":{
"x":{"field":"x","type":"quantitative","axis":null,"scale":{"domain":[0,2013],"range":[0,2013],"nice":false,"zero":false}},
"y":{"field":"y","type":"quantitative","axis":null,"scale":{"domain":[0,1399],"range":[0,1399],"nice":false,"zero":false}},
"detail":{"field":"e"},"order":{"field":"o"},
"strokeWidth":{"field":"w","type":"quantitative","legend":null,"scale":{"domain":[1,2,3,4],"range":[2.8,3.3,5,11]}},
"opacity":{"field":"w","type":"quantitative","legend":null,"scale":{"domain":[1,2,3,4],"range":[0.4,0.7,0.95,1]}}}},
{"data":{"name":"nodes"},"transform":[{"lookup":"t","from":{"data":{"name":"terms"},"key":"t","fields":["term"]}}],"mark":{"type":"circle","stroke":"#1f7f9f","strokeWidth":1.8,"opacity":1},"encoding":{
"x":{"field":"x","type":"quantitative"},"y":{"field":"y","type":"quantitative"},
"size":{"field":"k","type":"quantitative","legend":null,"scale":{"type":"pow","exponent":2,"domain":[0,20],"range":[0,1200]}},
"fill":{"field":"term","type":"nominal","scale":{"domain":["cornification","regulation of GTPase activity","wound healing","chemotaxis","blood vessel morphogenesis","neural tube development","negative regulation of cellular response to growth factor","regulation of cell adhesion","osteoblast differentiation","NABA MATRISOME ASSOCIATED","gland development","luteinization","semaphorin-plexin signaling pathway","roof of mouth development","response to leukemia inhibitory factor","head development","regulation of chemotaxis","skeletal system development","muscle cell differentiation","small GTPase mediated signal transduction"],"range":["#d81f22","#2f78ae","#4aa84a","#8c4a9c","#f27c1b","#f0ec42","#a5562a","#e67fb8","#999999","#8dcdc0","#f8f6b3","#bdb8d9","#f07f72","#80afd2","#f6b066","#aed26a","#d9d9d9","#b17ab4","#c9e5c0","#f9cbe0"]},
"legend":{"orient":"none","legendX":1429,"legendY":799,"title":null,"symbolType":"square","symbolSize":560,"symbolStrokeWidth":0,"symbolOpacity":1,"labelFont":"Lato","labelFontSize":22.4,"labelColor":"#222222","labelOffset":7,"rowPadding":2.4,"labelLimit":700,"values":["cornification","regulation of GTPase activity","wound healing","chemotaxis","blood vessel morphogenesis","neural tube development","negative regulation of cellular response to growth factor","regulation of cell adhesion","osteoblast differentiation","NABA MATRISOME ASSOCIATED","gland development","luteinization","semaphorin-plexin signaling pathway","roof of mouth development","response to leukemia inhibitory factor","head development","regulation of chemotaxis","skeletal system development","muscle cell differentiation"]}}}},
{"data":{"name":"txt"},"mark":{"type":"text","font":"Open Sans","fontSize":26,"align":"left","baseline":"alphabetic","color":"#111111"},"encoding":{"x":{"field":"x","type":"quantitative"},"y":{"field":"y","type":"quantitative"},"text":{"field":"s"}}},
{"data":{"name":"genes"},"mark":{"type":"text","font":"Liberation Sans","fontSize":22,"align":"left","baseline":"middle","color":"#111111"},"encoding":{"x":{"field":"x","type":"quantitative"},"y":{"field":"y","type":"quantitative"},"text":{"field":"s"}}}
]}
]}
